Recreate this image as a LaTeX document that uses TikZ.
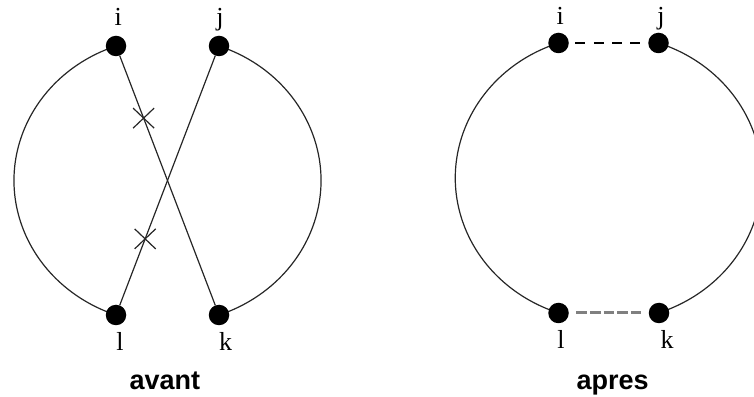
\documentclass[tikz,border=0pt]{standalone}
\usepackage{fontspec}
\setmainfont{Liberation Serif}
\newfontfamily\titlefont{Liberation Sans}
\usetikzlibrary{backgrounds}
\begin{document}
\begin{tikzpicture}[x=1pt,y=1pt,
  dot/.style={circle,fill=black,minimum size=20.5pt,inner sep=0pt},
  lbl/.style={font=\fontsize{26}{26}\selectfont,inner sep=0pt,anchor=base},
  ttl/.style={font=\titlefont\bfseries\fontsize{27}{27}\selectfont,inner sep=0pt,anchor=base},
  edge/.style={line width=1.2pt,draw=black!85},
  topdash/.style={line width=1.6pt,draw=black,dash pattern=on 10pt off 8.3pt,shorten <=6.5pt,shorten >=8.5pt},
  botdash/.style={line width=3pt,draw=black!50,dash pattern=on 10.5pt off 3.1pt,shorten <=7.5pt,shorten >=7.5pt}]
\useasboundingbox (0,0) rectangle (754,396);
% ---------- avant ----------
\node[dot] (i1) at (116,350) {};
\node[dot] (j1) at (219,350) {};
\node[dot] (l1) at (116,81) {};
\node[dot] (k1) at (219,81) {};
\node[lbl] (li1) at (118.3,370) {i};
\node[lbl] (lj1) at (220,370) {j};
\node[lbl] (ll1) at (120,45.5) {l};
\node[lbl] (lk1) at (225.7,45.5) {k};
\node[ttl] (avant) at (164.8,6.7) {avant};
% ---------- apres ----------
\node[dot] (i2) at (558.5,353) {};
\node[dot] (j2) at (658.5,353) {};
\node[dot] (l2) at (558.5,83) {};
\node[dot] (k2) at (659,83) {};
\node[lbl] (li2) at (560.3,371) {i};
\node[lbl] (lj2) at (661,371) {j};
\node[lbl] (ll2) at (561,48) {l};
\node[lbl] (lk2) at (667,48) {k};
\node[ttl] (apres) at (612.7,6.7) {apres};
\begin{pgfonlayer}{background}
  \clip (0,0) rectangle (754,396);
  % avant arcs and crossing edges
  \draw[edge] (i1.center) arc[start angle=109.6,end angle=250.4,x radius=153.5pt,y radius=142.8pt];
  \draw[edge] (j1.center) arc[start angle=70.4,end angle=-70.4,x radius=153.5pt,y radius=142.8pt];
  \draw[edge] (i1) -- coordinate[pos=0.25] (c1) (k1);
  \draw[edge] (l1) -- coordinate[pos=0.266] (c2) (j1);
  \draw[edge] (c1) +(-10.5,10) -- +(10.5,-10) (c1) +(-10.5,-10) -- +(10.5,10);
  \draw[edge] (c2) +(-10.5,10) -- +(10.5,-10) (c2) +(-10.5,-10) -- +(10.5,10);
  % apres arcs
  \draw[edge] (i2.center) arc[start angle=109.05,end angle=250.95,x radius=153.2pt,y radius=142.8pt];
  \draw[edge] (j2.center) arc[start angle=70.95,end angle=-70.95,x radius=153.2pt,y radius=142.8pt];
\end{pgfonlayer}
\draw[topdash] (i2) -- (j2);
\draw[botdash] (l2) -- (k2);
\end{tikzpicture}
\end{document}
